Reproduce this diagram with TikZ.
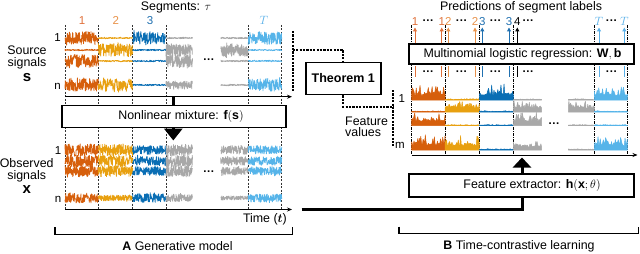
\documentclass[tikz,border=0pt]{standalone}
\usepackage{fontspec}
\setmainfont{Liberation Sans}
\usepackage{amsmath,bm}
\usetikzlibrary{arrows.meta}
\definecolor{cA}{HTML}{D65F0C}
\definecolor{cB}{HTML}{E8A010}
\definecolor{cC}{HTML}{0A6EB4}
\definecolor{cG}{HTML}{A8A8A8}
\definecolor{cT}{HTML}{56B4E9}
\definecolor{lA}{HTML}{E0703A}
\definecolor{lB}{HTML}{E8924A}
\definecolor{lC}{HTML}{2070B0}
\definecolor{lT}{HTML}{5AB0E8}
\newcommand\mysig[5]{\draw[color=#5,line width=0.75pt,line join=bevel] plot[samples=130,domain=#1:#2] (\x,{#3+#4*rand*(0.62+0.38*rnd*rnd*rnd*rnd)});}
\newcommand\myfeat[5]{\filldraw[color=#5,line width=0.5pt,line join=bevel] plot[samples=45,domain=#1:#2] (\x,{#3-#4*(0.28+0.72*rnd*rnd)}) -- (#2,#3) -- (#1,#3) -- cycle;}
\tikzset{
  box/.style={draw,line width=1.6pt,fill=white,inner sep=0pt},
  sepl/.style={draw=black!80,line width=0.45pt,dash pattern=on 2pt off 1.5pt},
  sepr/.style={draw=black,line width=0.45pt,dash pattern=on 3pt off 1pt on 1pt off 1pt},
  axisl/.style={line width=0.9pt,-{Stealth[length=5pt,width=4pt]}},
  fat/.style={line width=3pt},
  dotl/.style={line width=2.3pt,dash pattern=on 2.2pt off 1.2pt},
  lab/.style={inner sep=0pt,font=\fontsize{11.5}{11}\selectfont},
  upar/.style={line width=1pt,-{Triangle[length=4pt,width=4pt]}},
  brk/.style={line width=1.4pt},
  bigm/.style={inner sep=0pt,font=\fontsize{15}{15}\selectfont}
}
\begin{document}
\begin{tikzpicture}[x=1pt,y=-1pt,font=\fontsize{12.4}{11.5}\selectfont]
\useasboundingbox (0,0) rectangle (640,254);
\pgfmathsetseed{7}
% separators
\foreach \xx in {65,98.3,132.7,166,248.3,281.7} \draw[sepl] (\xx,25) -- (\xx,210);
\foreach \xx in {411.7,445,479.3,513.3,594.3,627.3} \draw[sepr] (\xx,25) -- (\xx,155);
% source signals
\foreach \a/\b/\cl/\p/\q/\r/\s in {65/98.3/cA/10.5/1.3/10.5/10.5, 98.3/132.7/cB/1.3/10.5/1.3/10.5, 132.7/166/cC/10.5/1.3/1.3/1.3, 166/192.5/cG/1.3/10.5/10.5/7, 220.7/248.3/cG/1.3/10.5/1.3/1.3, 248.3/281.7/cT/10.5/1.3/1.3/10.5}{
  \mysig{\a}{\b}{38}{\p}{\cl}
  \mysig{\a}{\b}{50}{\q}{\cl}
  \mysig{\a}{\b}{61}{\r}{\cl}
  \mysig{\a}{\b}{85}{\s}{\cl}
}
% observed signals
\foreach \a/\b/\cl/\p/\q/\r/\s in {65/98.3/cA/9.5/9.5/9.5/8, 98.3/132.7/cB/9.5/9.5/9/5, 132.7/166/cC/7.5/7.5/7.5/7.5, 166/192.5/cG/9.5/9.5/9.5/6.5, 220.7/248.3/cG/7/7/7/3.5, 248.3/281.7/cT/7/7/7/6.5}{
  \mysig{\a}{\b}{150}{\p}{\cl}
  \mysig{\a}{\b}{161}{\q}{\cl}
  \mysig{\a}{\b}{171}{\r}{\cl}
  \mysig{\a}{\b}{198}{\s}{\cl}
}
% feature values
\foreach \a/\b/\cl/\p/\q/\r/\s in {411.7/445/cA/16/1.5/14/17, 445/479.3/cB/1.5/13/1.5/15, 479.3/513.3/cC/17/1.5/1.5/1.5, 513.3/541.5/cG/1.5/13/15/10, 568.3/594.3/cG/1.5/13/1.5/1.5, 594.3/627.3/cT/15/1.5/1.5/15}{
  \myfeat{\a}{\b}{100}{\p}{\cl}
  \myfeat{\a}{\b}{112}{\q}{\cl}
  \myfeat{\a}{\b}{125.7}{\r}{\cl}
  \myfeat{\a}{\b}{150}{\s}{\cl}
}
% dots between segments
\node[lab] (d1) at (209,61) {\textbf{···}};
\node[lab] (d2) at (209,173) {\textbf{···}};
\node[lab] (d3) at (554.3,125) {\textbf{···}};
% axes
\draw[axisl] (65,96.7) -- (292,96.7);
\draw[axisl] (65,209.5) -- (292,209.5);
\draw[axisl] (411.7,155) -- (637.5,155);
% thick arrows
\coordinate (sa) at (173.3,96.7);
\coordinate (oa) at (173.3,140.5);
\draw[fat,-{Triangle[length=12pt,width=18pt]}] (sa) -- (oa);
\coordinate (ox) at (301.5,209.5);
\coordinate (fa) at (522,157.5);
\draw[fat,-{Triangle[length=10pt,width=18pt]}] (ox) -| (fa);
% boxes
\node[box,minimum width=224pt,minimum height=22pt] (nlm) at (174,116.5) {};
\node[inner sep=0pt] (nlmt) at (181,116.5) {Nonlinear mixture: $\mathbf{f}(\mathbf{s})$};
\node[box,line width=1.9pt,minimum width=75pt,minimum height=32pt] (thm) at (343.3,78.5) {};
\node[inner sep=0pt,font=\fontsize{12.5}{12}\selectfont\bfseries] (thmt) at (343.3,78.5) {Theorem 1};
\node[box,line width=1.9pt,minimum width=225pt,minimum height=20pt] (mlr) at (521.7,54.2) {};
\node[inner sep=0pt] (mlrt) at (522.5,54.2) {Multinomial logistic regression: $\mathbf{W},\mathbf{b}$};
\node[box,line width=1.9pt,minimum width=225pt,minimum height=22.5pt] (fex) at (521.5,185.3) {};
\node[inner sep=0pt] (fext) at (532,185.3) {Feature extractor: $\mathbf{h}(\mathbf{x};\theta)$};
% dotted connectors
\coordinate (sb1) at (292.7,31);
\coordinate (sb2) at (292.7,91.7);
\coordinate (sbm) at (292.7,50);
\draw[dotl] (sb1) -- (sb2);
\draw[dotl] (sbm) -| (thm.north);
\coordinate (fb1) at (393.3,90);
\coordinate (fb2) at (393.3,146);
\coordinate (fbm) at (393.3,106.7);
\draw[dotl] (fb1) -- (fb2);
\draw[dotl] (thm.south) |- (fbm);
% top labels left
\node[inner sep=0pt] (seg) at (176,7) {Segments: $\tau$};
\node[lab,text=lA] (s1) at (82,20.5) {1};
\node[lab,text=lB] (s2) at (115.7,20.5) {2};
\node[lab,text=lC] (s3) at (150,20.5) {3};
\node[lab,text=lT] (sT) at (264,20.5) {$T$};
% top labels right
\node[inner sep=0pt] (pred) at (521,7) {Predictions of segment labels};
\foreach \xx/\cl/\t [count=\i] in {415/lA/1, 441.7/lA/1, 448.3/lB/2, 475/lB/2, 482.3/lC/3, 509/lC/3, 517.3/black/4, 599/lT/$T$, 624.3/lT/$T$}{
  \node[lab,text=\cl] (p\i) at (\xx,21.7) {\t};
  \draw[upar,color=\cl] (\xx,43.3) -- (\xx,27.5);
  \draw[line width=1pt,color=\cl] (\xx,66.5) -- (\xx,77);
}
\foreach \xx [count=\i] in {428.3,461.7,495.7,611.7}{
  \node[lab] (pd\i) at (\xx,21.7) {\textbf{···}};
  \node[lab] (qd\i) at (\xx,73) {\textbf{···}};
}
\node[lab] (pd5) at (528.3,21.7) {\textbf{···}};
\node[lab] (qd5) at (528.3,73) {\textbf{···}};
% row labels
\node[lab] (r1) at (57.5,38) {1};
\node[lab] (rn) at (57.5,86) {n};
\node[lab] (o1) at (58,151) {1};
\node[lab] (on) at (58,199) {n};
\node[lab] (f1) at (401.7,98.5) {1};
\node[lab] (fm) at (400,145) {m};
% side texts
\node[align=center,inner sep=0pt] (src) at (27,57.5) {Source\\signals};
\node[bigm] (srcs) at (27,77.5) {$\mathbf{s}$};
\node[align=center,inner sep=0pt] (obs) at (26.7,170.5) {Observed\\signals};
\node[bigm] (obsx) at (26.7,190) {$\mathbf{x}$};
\node[align=left,inner sep=0pt,anchor=west] (fv) at (345,127) {Feature\\values};
\node[inner sep=0pt,anchor=east] (time) at (287,219.5) {Time ($\boldsymbol{t}$)};
% brackets
\draw[brk] (55,227.3) -- (55,234.3) -- (292.3,234.3) -- (292.3,227.3);
\draw[brk] (399,226.7) -- (399,233.5) -- (638.3,233.5) -- (638.3,226.7);
\node[inner sep=0pt] (la) at (177.5,246.5) {\textbf{A} Generative model};
\node[inner sep=0pt] (lb) at (519,246.5) {\textbf{B} Time-contrastive learning};
\end{tikzpicture}
\end{document}
